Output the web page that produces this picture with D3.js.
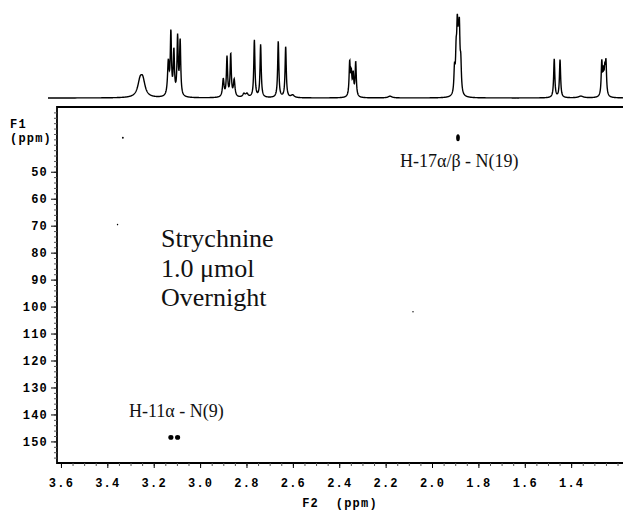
<!DOCTYPE html>
<html lang="en">
<head>
  <title>Strychnine HMBC</title>
  <style>
    body { margin: 0; background: #fff; }
    .ax text { font-family: "Liberation Mono", monospace; font-weight: bold; font-size: 12px; letter-spacing: 1.2px; fill: #000; }
    .ax path { display: none; }
    .ax line { stroke: #000; }
    .minor line { stroke: #555; }
    .note { font-family: "Liberation Serif", "Times New Roman", serif; fill: #111; }
  </style>
</head>
<body>
  <script src="https://d3js.org/d3.v7.min.js"></script>
  <svg></svg>
  <script>

// 1D proton trace on top: line positions (ppm), heights (relative) and half widths (ppm)
var peakPpm    = [3.259, 3.247, 3.137, 3.126, 3.113, 3.097, 3.086, 2.900, 2.884, 2.868, 2.853, 2.811, 2.798,
                  2.766, 2.739, 2.663, 2.631, 2.601, 2.355, 2.348, 2.340, 2.329, 2.181,
                  1.903, 1.896, 1.891, 1.886, 1.882, 1.876, 1.473, 1.448, 1.358, 1.268, 1.261, 1.255, 1.250];
var peakHeight = [16, 17, 38, 70, 50, 66, 62, 20, 45, 48, 19, 4, 4,
                  65, 60, 64, 58, 3, 38, 24, 24, 39, 2,
                  28, 40, 66, 40, 62, 32, 44, 43, 2, 38, 24, 24, 36];
var peakWidth  = [0.012, 0.012, 0.004, 0.003, 0.003, 0.003, 0.003, 0.004, 0.003, 0.003, 0.004, 0.006, 0.006,
                  0.003, 0.003, 0.003, 0.003, 0.008, 0.003, 0.003, 0.003, 0.003, 0.01,
                  0.003, 0.003, 0.003, 0.003, 0.003, 0.003, 0.003, 0.003, 0.012, 0.003, 0.003, 0.003, 0.003];

// 2D cross peaks: F2 (1H ppm), F1 (15N ppm), radii in ppm units
var crossF2 = [1.888, 3.126, 3.097, 3.333, 3.356, 2.082];
var crossF1 = [37.4, 148.5, 148.5, 37.4, 69.6, 101.9];
var crossRx = [0.008, 0.011, 0.011, 0.004, 0.003, 0.003];
var crossRy = [1.3, 0.9, 0.9, 0.4, 0.3, 0.3];

var f2Ticks = [3.6, 3.4, 3.2, 3.0, 2.8, 2.6, 2.4, 2.2, 2.0, 1.8, 1.6, 1.4];
var f1Ticks = [50, 60, 70, 80, 90, 100, 110, 120, 130, 140, 150];

var labelText = ['Strychnine', '1.0 \u03bcmol', 'Overnight'];

var width = 623, height = 510;
var frame = {left: 57, top: 107, right: 623, bottom: 463};

var svg = d3.select('svg').attr('width', width).attr('height', height);

var x = d3.scaleLinear().domain([3.617, 1.1765]).range([frame.left, frame.right]);
var y = d3.scaleLinear().domain([26, 158]).range([frame.top, frame.bottom]);
var yTrace = d3.scaleLinear().domain([0, 100]).range([98, 10]);

// proton trace, lorentzian lines summed
var traceX = d3.range(48, 623.1, 0.2).map(function(px) { return x.invert(px); });
var trace = traceX.map(function(p) {
  var s = 0;
  for (var i = 0; i < peakPpm.length; i++) {
    var d = p - peakPpm[i], w = peakWidth[i];
    s += peakHeight[i] * w * w / (d * d + w * w);
  }
  return [p, s];
});

svg.append('path')
   .datum(trace)
   .attr('fill', 'none')
   .attr('stroke', '#000')
   .attr('stroke-width', 1.4)
   .attr('d', d3.line().x(function(d) { return x(d[0]); }).y(function(d) { return yTrace(d[1]); }));

// frame (left, top, bottom)
svg.append('path')
   .attr('d', 'M' + frame.right + ',' + frame.top + 'H' + frame.left + 'V' + frame.bottom + 'H' + frame.right)
   .attr('fill', 'none')
   .attr('stroke', '#000')
   .attr('stroke-width', 1.8);

// minor ticks
svg.append('g').attr('class', 'ax minor')
   .attr('transform', 'translate(' + frame.left + ',0)')
   .call(d3.axisLeft(y).tickValues(d3.range(28, 158, 2)).tickSize(3).tickFormat(''));
svg.append('g').attr('class', 'ax minor')
   .attr('transform', 'translate(0,' + frame.bottom + ')')
   .call(d3.axisBottom(x).tickValues(d3.range(3.6, 1.18, -0.05)).tickSize(3).tickFormat(''));

// major ticks and labels
svg.append('g').attr('class', 'ax')
   .attr('transform', 'translate(' + frame.left + ',0)')
   .call(d3.axisLeft(y).tickValues(f1Ticks).tickSize(6).tickPadding(3).tickFormat(d3.format('d')));
svg.append('g').attr('class', 'ax')
   .attr('transform', 'translate(0,' + frame.bottom + ')')
   .call(d3.axisBottom(x).tickValues(f2Ticks).tickSize(5).tickPadding(10).tickFormat(d3.format('.1f')));

// axis titles
var ax = svg.append('g').attr('class', 'ax');
ax.append('text').attr('x', 10).attr('y', 128).text('F1');
ax.append('text').attr('x', 10).attr('y', 142).text('(ppm)');
ax.append('text').attr('x', 340).attr('y', 507).attr('text-anchor', 'middle').text('F2  (ppm)').style('white-space', 'pre');

// cross peaks
svg.append('g')
   .selectAll('ellipse')
   .data(crossF2)
   .enter()
   .append('ellipse')
   .attr('cx', function(d) { return x(d); })
   .attr('cy', function(d, i) { return y(crossF1[i]); })
   .attr('rx', function(d, i) { return Math.abs(x(0) - x(crossRx[i])); })
   .attr('ry', function(d, i) { return y(crossRy[i]) - y(0); })
   .attr('fill', '#000');

// annotations
svg.append('text').attr('class', 'note').attr('x', 400).attr('y', 167).attr('font-size', 18).text('H-17\u03b1/\u03b2 - N(19)');
svg.append('text').attr('class', 'note').attr('x', 129).attr('y', 417).attr('font-size', 18).text('H-11\u03b1 - N(9)');

svg.append('g')
   .selectAll('text')
   .data(labelText)
   .enter()
   .append('text')
   .attr('class', 'note')
   .attr('x', 161)
   .attr('y', function(d, i) { return 247 + i * 29.5; })
   .attr('font-size', 26)
   .text(function(d) { return d; });

  </script>
</body>
</html>
